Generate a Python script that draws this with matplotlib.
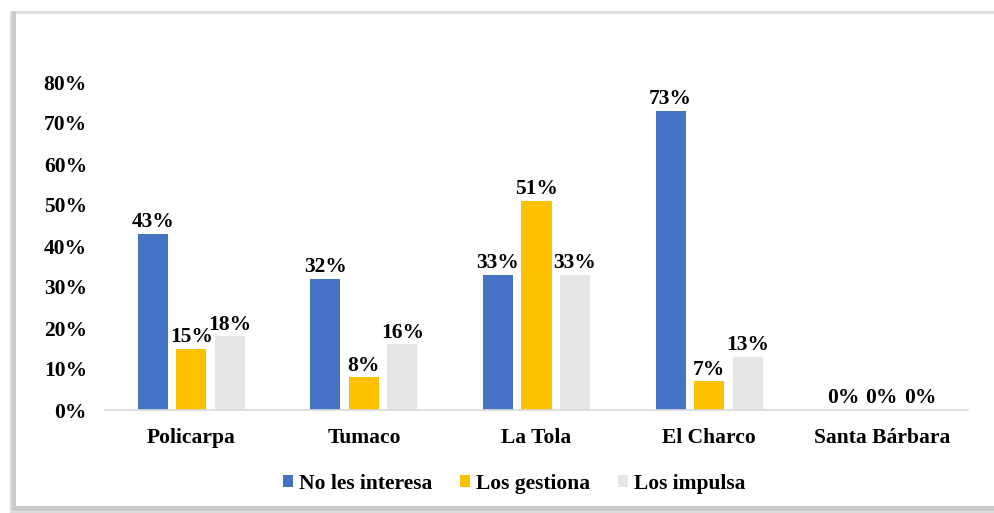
import matplotlib
matplotlib.use("Agg")
import matplotlib.pyplot as plt
from matplotlib.patches import Rectangle
import numpy as np

categories = ["Policarpa", "Tumaco", "La Tola", "El Charco", "Santa Bárbara"]
series_names = ["No les interesa", "Los gestiona", "Los impulsa"]
no_les_interesa = [43, 32, 33, 73, 0]
los_gestiona = [15, 8, 51, 7, 0]
los_impulsa = [18, 16, 33, 13, 0]
yticks = [0, 10, 20, 30, 40, 50, 60, 70, 80]
colors = ["#4472C4", "#FFC000", "#E7E6E6"]

plt.rcParams['font.family'] = ['Liberation Serif', 'DejaVu Serif']
plt.rcParams['font.weight'] = 'bold'
FS = 15.5

W, H = 995, 513
fig = plt.figure(figsize=(W / 100, H / 100), dpi=100)


def frect(x0, y0, x1, y1, color, z):
    # image pixel coords (y from top)
    fig.patches.append(Rectangle((x0 / W, (H - y1) / H), (x1 - x0) / W, (y1 - y0) / H,
                                 transform=fig.transFigure, facecolor=color,
                                 edgecolor="none", zorder=z))


# frame with shadow (left and bottom), top line
frect(10, 11, 1000, 513, "#dcdcdc", 0)
frect(12, 11, 1000, 511, "#cbcbcb", 0.5)
frect(16, 14, 1000, 506, "white", 1)
frect(16, 11, 1000, 14, "#e0e0e0", 1.2)

ax = fig.add_axes([105 / W, (H - 410) / H, 863 / W, (410 - 82) / H])
ax.set_zorder(2)
ax.patch.set_alpha(0)

x = np.arange(len(categories))
w = 0.174
step = 0.223
series = [no_les_interesa, los_gestiona, los_impulsa]
for i, (vals, name, c) in enumerate(zip(series, series_names, colors)):
    pos = x + (i - 1) * step
    ax.bar(pos, vals, width=w, color=c, label=name)
    for p, v in zip(pos, vals):
        ax.text(p, v + 0.4, f"{v}%", ha="center", va="bottom",
                fontsize=FS, fontweight="bold")

ax.set_xlim(-0.5, len(categories) - 0.5)
ax.set_ylim(0, 80)
ax.set_yticks(yticks)
ax.set_yticklabels([f"{t}%" for t in yticks], fontsize=FS, fontweight="bold")
ax.set_xticks(x)
ax.set_xticklabels(categories, fontsize=FS, fontweight="bold")
ax.tick_params(axis="both", length=0)
ax.tick_params(axis="y", pad=13)
ax.tick_params(axis="x", pad=13)
for s in ["top", "right", "left"]:
    ax.spines[s].set_visible(False)
ax.spines["bottom"].set_color("#d9d9d9")
ax.spines["bottom"].set_linewidth(1.2)

fig.legend(loc="center", bbox_to_anchor=(514 / W, (H - 484) / H), ncol=3,
           frameon=False, handlelength=0.46, handleheight=0.46,
           handletextpad=0.28, columnspacing=1.3,
           prop={'weight': 'bold', 'size': FS})

fig.savefig("out.png", dpi=100)
